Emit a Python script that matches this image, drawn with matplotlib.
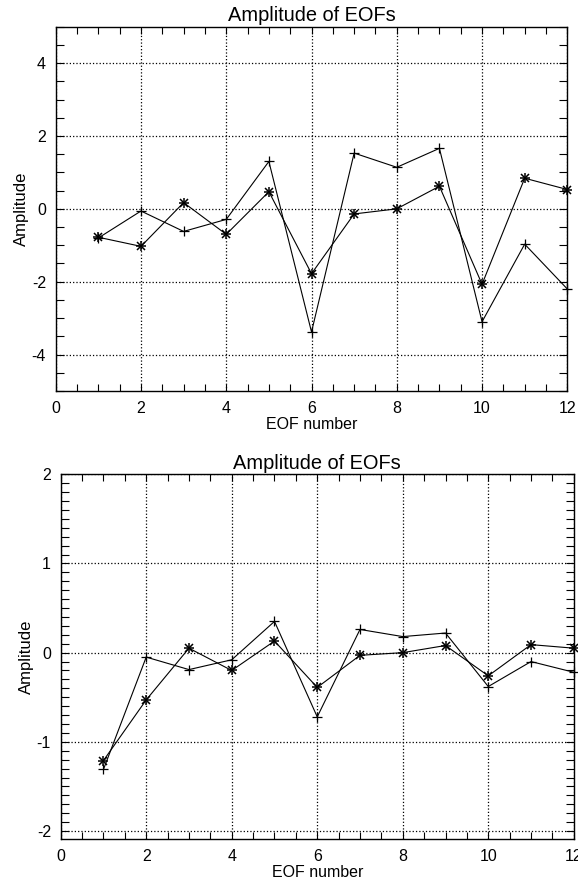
import matplotlib
matplotlib.use("Agg")
import matplotlib.pyplot as plt
from matplotlib.ticker import MultipleLocator

plt.rcParams['font.family'] = ['Liberation Sans', 'DejaVu Sans']
plt.rcParams['axes.unicode_minus'] = False

eof_num = [1, 2, 3, 4, 5, 6, 7, 8, 9, 10, 11, 12]

# top panel
top_plus = [-0.80, -0.06, -0.62, -0.29, 1.30, -3.38, 1.53, 1.14, 1.66, -3.10, -0.97, -2.20]
top_star = [-0.78, -1.03, 0.17, -0.70, 0.47, -1.78, -0.14, 0.00, 0.62, -2.07, 0.84, 0.53]

# bottom panel
bot_plus = [-1.31, -0.05, -0.19, -0.08, 0.35, -0.72, 0.26, 0.18, 0.22, -0.38, -0.10, -0.22]
bot_star = [-1.21, -0.53, 0.05, -0.20, 0.13, -0.39, -0.03, 0.00, 0.08, -0.26, 0.09, 0.05]


def panel(ax, plus, star, ylim, ymajor, yminor):
    ax.plot(eof_num, plus, color='black', lw=0.8, marker='+', ms=7, mew=0.9, clip_on=False)
    ax.plot(eof_num, star, color='black', lw=0.8, marker='+', ms=7, mew=1.1, clip_on=False)
    ax.plot(eof_num, star, ls='none', color='black', marker='x', ms=6, mew=1.1, clip_on=False)

    ax.set_xlim(0, 12)
    ax.set_ylim(*ylim)
    ax.xaxis.set_major_locator(MultipleLocator(2))
    ax.xaxis.set_minor_locator(MultipleLocator(0.5))
    ax.yaxis.set_major_locator(MultipleLocator(ymajor))
    ax.yaxis.set_minor_locator(MultipleLocator(yminor))
    ax.tick_params(axis='x', which='both', direction='in', top=True, length=5, width=0.8,
                   labelsize=11.5, pad=7)
    ax.tick_params(axis='y', which='both', direction='in', right=True, length=6, width=0.8,
                   labelsize=11.5, pad=7)
    ax.grid(True, which='major', ls=':', color='black', lw=0.9)
    for s in ax.spines.values():
        s.set_linewidth(1.0)
    ax.set_title('Amplitude of EOFs', fontsize=14.4, pad=4)
    ax.set_xlabel('EOF number', fontsize=11.5, labelpad=1)
    ax.set_ylabel('Amplitude', fontsize=12, labelpad=2)


fig = plt.figure(figsize=(5.78, 8.86), dpi=100)
ax1 = fig.add_axes([0.0964, 0.5587, 0.8851, 0.4112])
ax2 = fig.add_axes([0.1050, 0.0530, 0.8877, 0.4117])

panel(ax1, top_plus, top_star, (-5, 5), 2, 0.5)
panel(ax2, bot_plus, bot_star, (-2.09, 2.0), 1, 0.1)

fig.savefig('out.png', dpi=100)
